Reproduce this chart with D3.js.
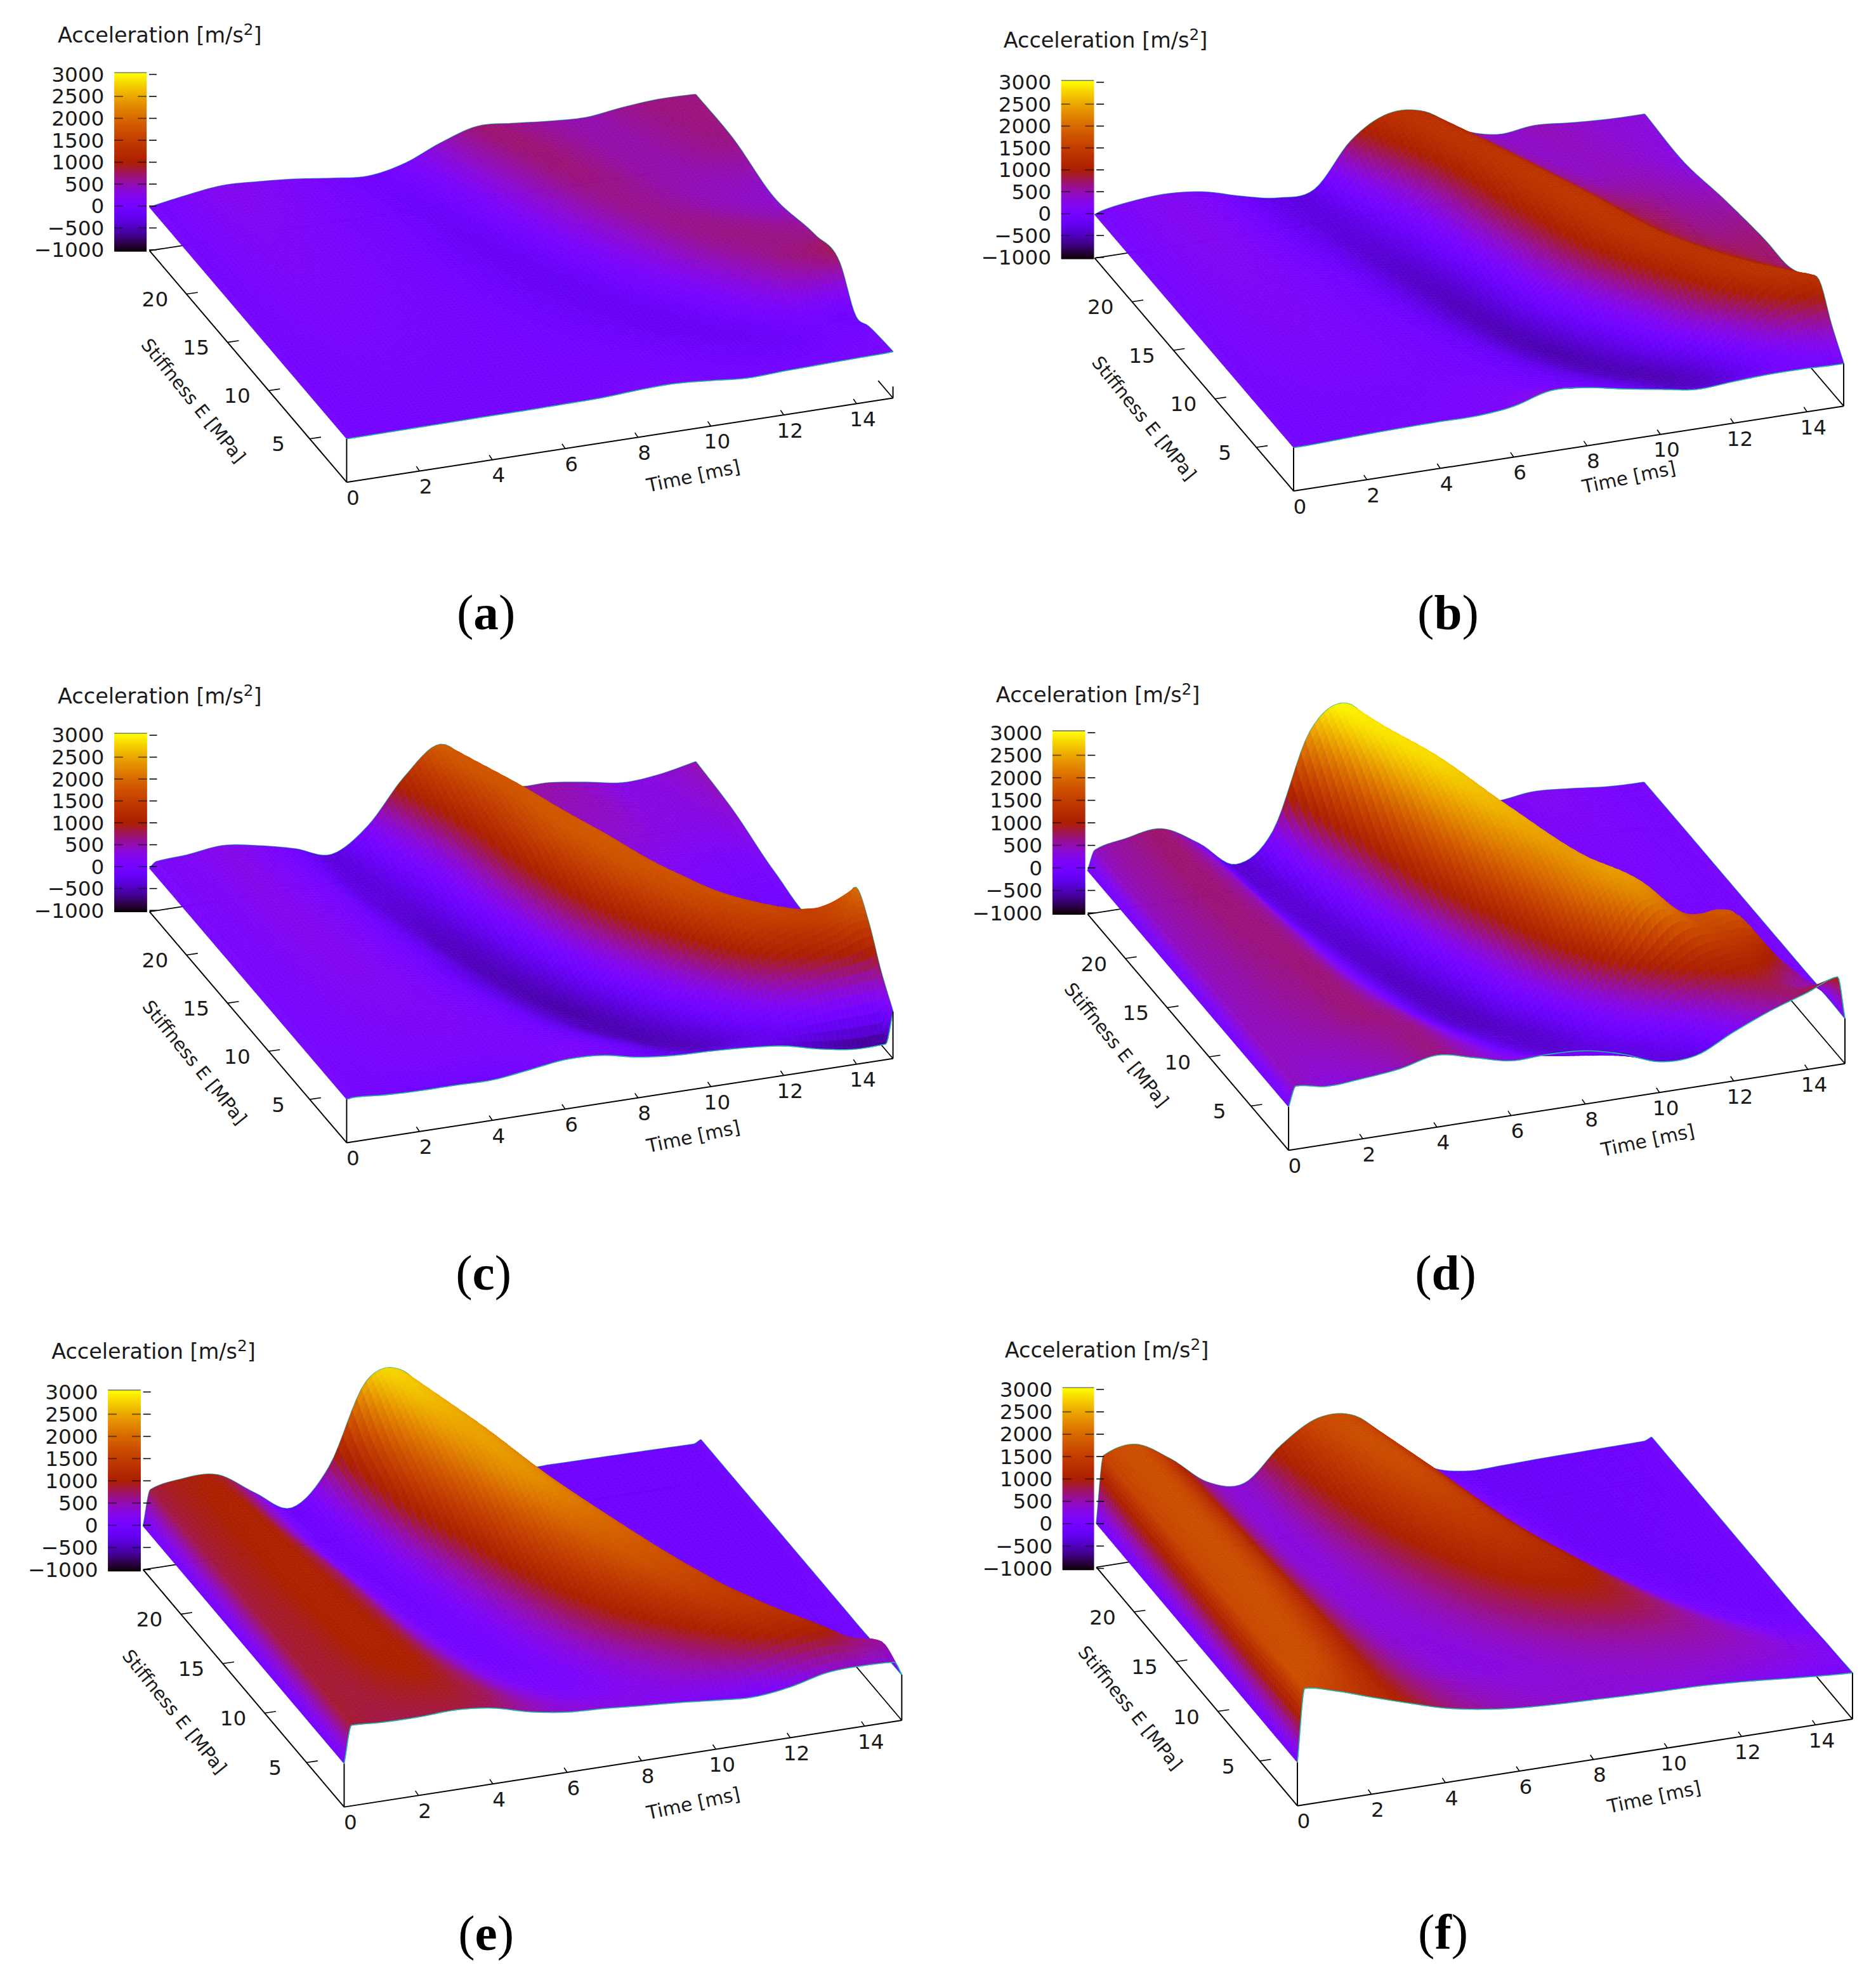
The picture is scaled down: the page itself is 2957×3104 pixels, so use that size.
<!DOCTYPE html>
<html>
<head>
<meta charset="utf-8">
<script src="https://cdnjs.cloudflare.com/ajax/libs/d3/7.8.5/d3.min.js"></script>
<style>
  html, body { margin: 0; padding: 0; background: #fff; }
  svg { display: block; }
  text { font-family: "DejaVu Sans", sans-serif; fill: #1a1a1a; }
  .caption { font-family: "Liberation Serif", serif; font-size: 40px; fill: #000; }
</style>
</head>
<body>
<div id="chart"></div>
<script>
//////////////////////////////////////////////////////////////////
// 1) Values
//////////////////////////////////////////////////////////////////
const times = [0, 0.2, 1, 2, 3, 4, 5, 6, 7, 8, 9, 10, 11, 12, 13, 14, 14.8, 15]; // ms
const stiffness = [24.5, 20, 15, 10, 7, 5, 3.5, 2, 0.5];                         // MPa

const timeTicks = [0, 2, 4, 6, 8, 10, 12, 14];
const stiffnessTicks = [5, 10, 15, 20];
const accelTicks = [-1000, -500, 0, 500, 1000, 1500, 2000, 2500, 3000];
const panelLetters = ["a", "b", "c", "d", "e", "f"];

// Acceleration [m/s2], one row per stiffness, one column per time
const accelA = [
  [0, 30, 140, 240, 200, 130, 20, -60, 100, 450, 700, 640, 560, 520, 620, 680, 670, 660],
  [0, 20, 110, 180, 150, 90, 30, -50, -130, 80, 450, 680, 640, 550, 540, 620, 650, 650],
  [0, 15, 80, 130, 110, 70, 30, -30, -120, -170, 20, 350, 600, 600, 520, 450, 420, 400],
  [0, 10, 50, 80, 70, 50, 30, 0, -60, -120, -180, -100, 150, 450, 620, 650, 650, 650],
  [0, 5, 30, 50, 50, 40, 30, 10, -20, -60, -110, -170, -140, 50, 300, 500, 600, 680],
  [0, 5, 20, 30, 35, 30, 25, 15, 0, -20, -60, -100, -150, -150, -40, 0, -100, -130],
  [0, 0, 15, 25, 25, 20, 20, 15, 10, 0, -20, -50, -90, -120, -100, -30, -20, -10],
  [0, 0, 10, 15, 20, 20, 20, 15, 15, 20, 10, -10, -40, -60, -50, 10, 30, 40],
  [0, 0, 5, 10, 15, 20, 20, 30, 40, 90, 110, 50, -20, 10, 30, 50, 60, 70]
];
const accelB = [
  [0, 60, 170, 220, 130, -100, -270, -200, 800, 1280, 1200, 650, 410, 490, 420, 370, 360, 360],
  [0, 50, 150, 210, 150, -20, -200, -350, -150, 500, 1250, 1250, 700, 450, 450, 400, 330, 300],
  [0, 40, 120, 170, 140, 50, -70, -280, -430, -150, 600, 1300, 1300, 800, 650, 550, 520, 530],
  [0, 30, 90, 130, 120, 70, 0, -120, -340, -480, -150, 500, 1250, 1300, 900, 720, 700, 700],
  [0, 20, 60, 90, 90, 70, 30, -40, -180, -400, -500, -200, 350, 1150, 1300, 1000, 780, 740],
  [0, 10, 40, 60, 60, 60, 40, 0, -90, -250, -430, -480, -200, 450, 1200, 1300, 1100, 1000],
  [0, 5, 15, 30, 40, 50, 70, 50, -20, -130, -280, -430, -480, -200, 450, 1050, 1220, 1240],
  [0, 0, 15, 30, 40, 60, 90, 130, 100, 20, -100, -260, -400, -350, -80, 250, 500, 550],
  [0, 0, 20, 50, 70, 80, 80, 170, 400, 340, 180, 40, -90, -40, 0, 0, -20, -20]
];
const accelC = [
  [0, 130, 170, 260, 130, -70, -330, 200, 1200, 1825, 1100, 600, 550, 430, 290, 350, 480, 517],
  [0, 120, 150, 250, 170, 0, -320, -250, 300, 1300, 1800, 1000, 480, 400, 300, 280, 340, 400],
  [0, 100, 130, 220, 200, 70, -170, -450, -200, 650, 1600, 1780, 900, 300, 120, 60, 60, 100],
  [0, 80, 110, 180, 200, 130, -40, -300, -500, -200, 650, 1500, 1750, 1000, 250, 50, 30, 50],
  [0, 70, 90, 140, 170, 150, 50, -130, -400, -520, -150, 600, 1400, 1680, 1200, 500, 500, 700],
  [0, 60, 70, 110, 140, 140, 100, -30, -250, -480, -450, -50, 650, 1350, 1550, 1550, 1850, 1950],
  [0, 50, 60, 90, 110, 120, 110, 30, -100, -320, -500, -350, 100, 700, 1050, 1300, 1550, 1500],
  [0, 40, 40, 60, 70, 60, 100, 110, 20, -150, -350, -450, -300, 0, 300, 450, 500, 700],
  [0, 20, -30, -60, -60, -70, 30, 140, 110, -60, -150, -180, -230, -320, -520, -650, -640, 80]
];
const accelD = [
  [0, 450, 600, 700, 230, -390, 250, 2420, 2930, 1900, 800, 200, 130, 220, 160, 70, 45, 44],
  [0, 450, 600, 700, 420, -280, -250, 800, 2450, 2800, 1800, 500, 120, 120, 120, 70, 50, 50],
  [0, 440, 570, 680, 560, -50, -400, -100, 1100, 2300, 2550, 1500, 300, 80, 70, 60, 50, 50],
  [0, 440, 540, 640, 660, 200, -250, -450, -50, 900, 2000, 2350, 1400, 250, 60, 50, 50, 50],
  [0, 440, 520, 600, 680, 420, -50, -380, -400, 150, 1100, 2150, 2250, 1000, 150, 60, 50, 50],
  [0, 450, 480, 560, 680, 570, 170, -200, -380, -330, 250, 1150, 2050, 1700, 1750, 400, 80, 50],
  [0, 455, 450, 500, 600, 640, 300, -50, -300, -380, -150, 350, 900, 1300, 1300, 800, 150, 60],
  [0, 455, 400, 450, 550, 660, 420, 120, -80, -220, -300, -200, 100, 600, 880, 600, 450, 60],
  [0, 455, 340, 390, 480, 660, 470, 265, 280, 230, 20, -290, -275, 130, 490, 780, 1030, 44]
];
const accelE = [
  [0, 820, 950, 920, 370, -110, 700, 2540, 2650, 1500, 450, -5, -40, -50, -60, -70, -80, 0],
  [0, 800, 960, 1020, 480, -50, 200, 1500, 2400, 2350, 1200, 250, -20, -50, -60, -70, -70, 0],
  [0, 820, 950, 1060, 740, 120, -30, 500, 1500, 2300, 2000, 900, 150, -30, -50, -50, -50, 0],
  [0, 840, 920, 1060, 880, 350, 0, 80, 600, 1350, 1850, 1800, 900, 120, -40, -40, -40, 0],
  [0, 850, 900, 1040, 950, 520, 130, 20, 250, 750, 1300, 1680, 1500, 650, 40, -30, -30, 0],
  [0, 860, 880, 1000, 980, 640, 260, 80, 120, 400, 800, 1250, 1500, 1200, 350, -10, -20, 0],
  [0, 870, 860, 950, 960, 720, 380, 170, 120, 260, 480, 800, 1230, 1380, 800, 150, 50, 20],
  [0, 870, 850, 880, 900, 780, 500, 300, 220, 240, 320, 470, 700, 1000, 1090, 700, 500, 50],
  [0, 860, 820, 810, 840, 750, 530, 390, 340, 270, 210, 130, 70, 170, 370, 400, 370, 55]
];
const accelF = [
  [0, 1550, 1700, 1230, 560, 400, 1150, 1640, 1550, 800, 110, -120, -120, -100, -90, -80, -70, 0],
  [0, 1560, 1700, 1280, 620, 330, 800, 1380, 1680, 1300, 550, 20, -110, -110, -90, -80, -70, 0],
  [0, 1580, 1700, 1330, 700, 340, 480, 900, 1320, 1450, 1050, 400, -40, -100, -90, -70, -60, 0],
  [0, 1600, 1700, 1370, 800, 420, 340, 480, 750, 1010, 1120, 980, 520, 80, -60, -70, -60, 0],
  [0, 1620, 1690, 1350, 850, 500, 340, 340, 460, 640, 800, 860, 740, 420, 120, -20, -30, 0],
  [0, 1650, 1680, 1330, 870, 560, 380, 320, 360, 450, 540, 590, 610, 530, 330, 120, 60, 20],
  [0, 1680, 1670, 1300, 900, 620, 450, 370, 350, 380, 420, 460, 480, 470, 400, 240, 150, 40],
  [0, 1700, 1620, 1270, 930, 670, 500, 410, 380, 380, 380, 390, 390, 380, 340, 260, 180, 50],
  [0, 1680, 1520, 1240, 970, 720, 560, 460, 410, 380, 350, 330, 310, 260, 190, 120, 75, 67]
];

// Time of the main crest in each stiffness row [ms]
const crestA = [9.5, 10.5, 11.5, 13.5, 14.5, 14.8, 14.8, 14.9, 14.9];
const crestB = [8.4, 9.5, 10.5, 11.6, 12.8, 13.7, 14.8, 14.9, 14.9];
const crestC = [8, 8.8, 9.5, 10.8, 11.9, 13.5, 14.4, 14.7, 14.8];
const crestD = [7, 7.6, 8.6, 9.7, 10.5, 11.2, 12.5, 13, 13.5];
const crestE = [6.6, 7.5, 8.3, 9.5, 10.3, 10.9, 11.8, 12.7, 13.5];
const crestF = [6.4, 7.2, 8, 9.2, 10, 10.8, 11.3, 12, 12.5];

//////////////////////////////////////////////////////////////////
// 2) Layout of the six plots (in thumbnail units, see viewBox)
//////////////////////////////////////////////////////////////////
const W = 1493.7, H = 1568;
const panels = [
  // plot (a) only shows a short stub of the box at the far time corner
  { z: accelA, crest: crestA, stub: 0.1, o: [276, 384],   t: [711, 317],   e: [119, 199.6], bar: [91, 116.7, 57.8, 200],  title: [46, 34],    tl: [552, 379],   el: [154, 319],  cap: [387, 501] },
  { z: accelB, crest: crestB, stub: 1, o: [1030, 391],  t: [1468, 323.4], e: [871.6, 205.5], bar: [845, 871, 64, 206],  title: [799, 38],   tl: [1297, 380],  el: [911, 333],  cap: [1153, 501] },
  { z: accelC, crest: crestC, stub: 1, o: [276, 910],   t: [711, 843],   e: [119, 726],   bar: [91, 117, 584, 726],     title: [46, 560],   tl: [552, 905],   el: [155, 846],  cap: [385, 1027] },
  { z: accelD, crest: crestD, stub: 1, o: [1026, 916],  t: [1469, 847],  e: [866, 728],   bar: [838, 864, 582, 728],    title: [793, 559],  tl: [1312, 908],  el: [889, 832],  cap: [1151, 1027] },
  { z: accelE, crest: crestE, stub: 1, o: [274, 1439],  t: [718, 1370],  e: [114, 1250],  bar: [86, 112, 1107, 1251],   title: [41, 1082],  tl: [552, 1436],  el: [139, 1363], cap: [387, 1553] },
  { z: accelF, crest: crestF, stub: 1, o: [1033, 1438], t: [1475, 1369], e: [873, 1248],  bar: [846, 871, 1105, 1250],  title: [800, 1081], tl: [1317, 1431], el: [900, 1360], cap: [1149, 1552] }
];

const svg = d3.select("#chart").append("svg")
  .attr("width", 2957)
  .attr("height", 3104)
  .attr("viewBox", `0 0 ${W} ${H}`);

//////////////////////////////////////////////////////////////////
// 3) Scales, palette, resampling helpers
//////////////////////////////////////////////////////////////////
const tScale = d3.scaleLinear().domain([0, 15]).range([0, 1]);
const eScale = d3.scaleLinear().domain([0.5, 24.5]).range([0, 1]);
const zHeight = d3.scaleLinear().domain([-1000, 3000]).range([0, 138]);

// gnuplot's pm3d palette (rgbformulae 7,5,15), red a touch lower to match the scan
const colour = d3.scaleSequential(x => d3.rgb(
  255 * Math.pow(x, 0.57),
  255 * x * x * x,
  255 * Math.max(0, Math.sin(2 * Math.PI * x))
).formatHex()).domain([-1000, 3000]);

// Cubic through read values. limited(k) switches to a monotone tangent at a
// sample, used beside the steep first and last time steps.
function cubic(xs, ys, x, limited) {
  const n = xs.length;
  const dir = xs[1] > xs[0] ? 1 : -1;
  let i = 0;
  while (i < n - 2 && (x - xs[i + 1]) * dir > 0) i++;
  const slope = k => (ys[k + 1] - ys[k]) / (xs[k + 1] - xs[k]);
  const tangent = k => {
    if (k === 0) return slope(0);
    if (k === n - 1) return slope(n - 2);
    const a = slope(k - 1), b = slope(k);
    const h0 = xs[k] - xs[k - 1], h1 = xs[k + 1] - xs[k];
    if (limited && limited(k)) {
      if (a * b <= 0) return 0;
      return (h0 + h1) * 3 / ((2 * h1 + h0) / a + (h1 + 2 * h0) / b);
    }
    return (a * h1 + b * h0) / (h0 + h1);
  };
  const h = xs[i + 1] - xs[i];
  const u = (x - xs[i]) / h;
  const u2 = u * u, u3 = u2 * u;
  return (2 * u3 - 3 * u2 + 1) * ys[i] + (u3 - 2 * u2 + u) * h * tangent(i)
    + (-2 * u3 + 3 * u2) * ys[i + 1] + (u3 - u2) * h * tangent(i + 1);
}
const nearEnds = k => k <= 1 || k >= times.length - 2;

// Move time so the crest of one row lines up with the crest wanted at E
function alignTime(t, crestAtE, crestOfRow) {
  if (t <= crestAtE) return t * crestOfRow / crestAtE;
  return crestOfRow + (t - crestAtE) * (15 - crestOfRow) / (15 - crestAtE);
}

// Finer drawing grid: each gap between read values gets a few steps
function refine(values, stepsOf) {
  const out = [];
  d3.pairs(values).forEach(([a, b], idx) => {
    const steps = stepsOf(Math.abs(b - a), idx);
    for (let k = 0; k < steps; k++) out.push(a + (b - a) * k / steps);
  });
  out.push(values[values.length - 1]);
  return out;
}
const fineTimes = refine(times, (gap, idx) =>
  idx === 0 ? 12 : idx === times.length - 2 ? 6 : Math.ceil(gap * 8));
const fineStiffness = refine(stiffness, gap => Math.max(2, Math.ceil(gap * 3.5)));

//////////////////////////////////////////////////////////////////
// 4) One plot: base box, surface, axes, colour box, labels
//////////////////////////////////////////////////////////////////
function buildPanel(p, idx) {
  const g = svg.append("g");

  const project = (t, e, z) => {
    const ft = tScale(t), fe = eScale(e);
    return [
      p.o[0] + ft * (p.t[0] - p.o[0]) + fe * (p.e[0] - p.o[0]),
      p.o[1] + ft * (p.t[1] - p.o[1]) + fe * (p.e[1] - p.o[1]) - (z === undefined ? 0 : zHeight(z))
    ];
  };

  // Resample between rows with their crests lined up
  const grid = fineStiffness.map(e => {
    const crestAtE = cubic(stiffness, p.crest, e);
    return fineTimes.map(t => {
      const rowValues = p.z.map((r, i) =>
        cubic(times, r, alignTime(t, crestAtE, p.crest[i]), nearEnds));
      return cubic(stiffness, rowValues, e);
    });
  });

  const line = d3.line();
  const axisLine = (a, b, w = 1) => g.append("line")
    .attr("x1", a[0]).attr("y1", a[1]).attr("x2", b[0]).attr("y2", b[1])
    .attr("stroke", "#000").attr("stroke-width", w);
  const partWay = (a, b, f) => [a[0] + (b[0] - a[0]) * f, a[1] + (b[1] - a[1]) * f];

  // Back edges of the base box, the surface covers most of them
  const far = project(15, 24.5);
  axisLine(p.t, partWay(p.t, far, p.stub === 1 ? 1 : 0.075), 0.9);
  axisLine(p.e, far, 0.9);

  // Thin teal border behind the surface
  const edge = (pts, w) => g.append("path")
    .attr("d", line(pts)).attr("fill", "none")
    .attr("stroke", "#22b8a8").attr("stroke-width", w).attr("stroke-linejoin", "round");
  edge(fineTimes.map((t, j) => project(t, 24.5, grid[0][j])), 1.1);
  edge(fineStiffness.map((e, i) => project(15, e, grid[i][fineTimes.length - 1])), 1.1);

  // Surface, far cells first
  const cells = [];
  for (let i = 0; i < fineStiffness.length - 1; i++) {
    for (let j = fineTimes.length - 2; j >= 0; j--) {
      const e0 = fineStiffness[i], e1 = fineStiffness[i + 1];
      const t0 = fineTimes[j], t1 = fineTimes[j + 1];
      const zs = [grid[i][j], grid[i][j + 1], grid[i + 1][j + 1], grid[i + 1][j]];
      cells.push({
        pts: [project(t0, e0, zs[0]), project(t1, e0, zs[1]), project(t1, e1, zs[2]), project(t0, e1, zs[3])],
        z: d3.mean(zs)
      });
    }
  }
  g.append("g").selectAll("path")
    .data(cells)
    .join("path")
    .attr("d", d => line(d.pts) + "Z")
    .attr("fill", d => colour(d.z))
    .attr("stroke", d => colour(d.z))
    .attr("stroke-width", 0.35);

  const last = fineStiffness.length - 1;
  edge(fineTimes.map((t, j) => project(t, 0.5, grid[last][j])), 0.8);

  // Front axes and the two verticals
  axisLine(p.o, p.t);
  axisLine(p.o, p.e);
  axisLine(p.o, project(0, 0.5, grid[last][0]));
  const cornerTop = project(15, 0.5, grid[last][fineTimes.length - 1]);
  axisLine(p.t, partWay(p.t, cornerTop, p.stub === 1 ? 1 : 0.25));

  // Time ticks and labels
  timeTicks.forEach(v => {
    const b = project(v, 0.5);
    if (v > 0) axisLine(b, [b[0] - 2.5, b[1] - 3.7], 0.8);
    g.append("text")
      .attr("x", b[0] + 5).attr("y", b[1] + 18)
      .attr("text-anchor", "middle").attr("font-size", 16.5)
      .text(v);
  });

  // Stiffness ticks and labels
  stiffnessTicks.forEach(v => {
    const b = project(0, v);
    axisLine(b, [b[0] + 9, b[1] - 1.3], 0.8);
    g.append("text")
      .attr("x", b[0] - 25).attr("y", b[1] + 10)
      .attr("text-anchor", "middle").attr("font-size", 16.5)
      .text(v);
  });

  // Axis titles
  g.append("text")
    .attr("transform", `translate(${p.tl[0]},${p.tl[1]}) rotate(-12)`)
    .attr("text-anchor", "middle").attr("dy", "0.35em").attr("font-size", 15)
    .text("Time [ms]");
  g.append("text")
    .attr("transform", `translate(${p.el[0]},${p.el[1]}) rotate(51)`)
    .attr("text-anchor", "middle").attr("dy", "0.35em").attr("font-size", 14.6)
    .text("Stiffness E [MPa]");

  // Colour box
  const [bx0, bx1, by0, by1] = p.bar;
  const barY = d3.scaleLinear().domain([-1000, 3000]).range([by1, by0]);
  const tickY = d3.scaleLinear().domain([-1000, 3000]).range([by1 - 1, by0 + 1.5]);
  g.append("g").selectAll("rect")
    .data(d3.range(-1000, 3000, 10))
    .join("rect")
    .attr("x", bx0)
    .attr("width", bx1 - bx0)
    .attr("y", d => barY(d + 10))
    .attr("height", d => barY(d) - barY(d + 10) + 0.4)
    .attr("fill", d => colour(d + 5));
  g.append("line").attr("x1", bx0).attr("x2", bx1).attr("y1", by0).attr("y2", by0)
    .attr("stroke", "#777").attr("stroke-width", 0.8);

  accelTicks.forEach(v => {
    const y = tickY(v);
    axisLine([bx1 + 2, y], [bx1 + 8, y], 0.8);
    if (v > -1000 && v < 3000) {
      g.append("line").attr("x1", bx0).attr("x2", bx0 + 7).attr("y1", y).attr("y2", y)
        .attr("stroke", "#000").attr("stroke-opacity", 0.55).attr("stroke-width", 0.9);
      g.append("line").attr("x1", bx1 - 7).attr("x2", bx1).attr("y1", y).attr("y2", y)
        .attr("stroke", "#000").attr("stroke-opacity", 0.55).attr("stroke-width", 0.9);
    }
    g.append("text")
      .attr("x", bx0 - 8).attr("y", y).attr("dy", "0.35em")
      .attr("text-anchor", "end").attr("font-size", 16.5)
      .text(v < 0 ? "\u2212" + Math.abs(v) : v);
  });

  // Title above the colour box, with a raised 2
  const title = g.append("text")
    .attr("x", p.title[0]).attr("y", p.title[1]).attr("font-size", 16.9);
  title.append("tspan").text("Acceleration [m/s");
  title.append("tspan").attr("dy", -6).attr("font-size", 12.5).text("2");
  title.append("tspan").attr("dy", 6).text("]");

  // Sub-figure caption
  const cap = g.append("text").attr("class", "caption")
    .attr("x", p.cap[0]).attr("y", p.cap[1]).attr("text-anchor", "middle");
  cap.append("tspan").text("(");
  cap.append("tspan").attr("font-weight", "bold").text(panelLetters[idx]);
  cap.append("tspan").text(")");
}

panels.forEach(buildPanel);
</script>
</body>
</html>
